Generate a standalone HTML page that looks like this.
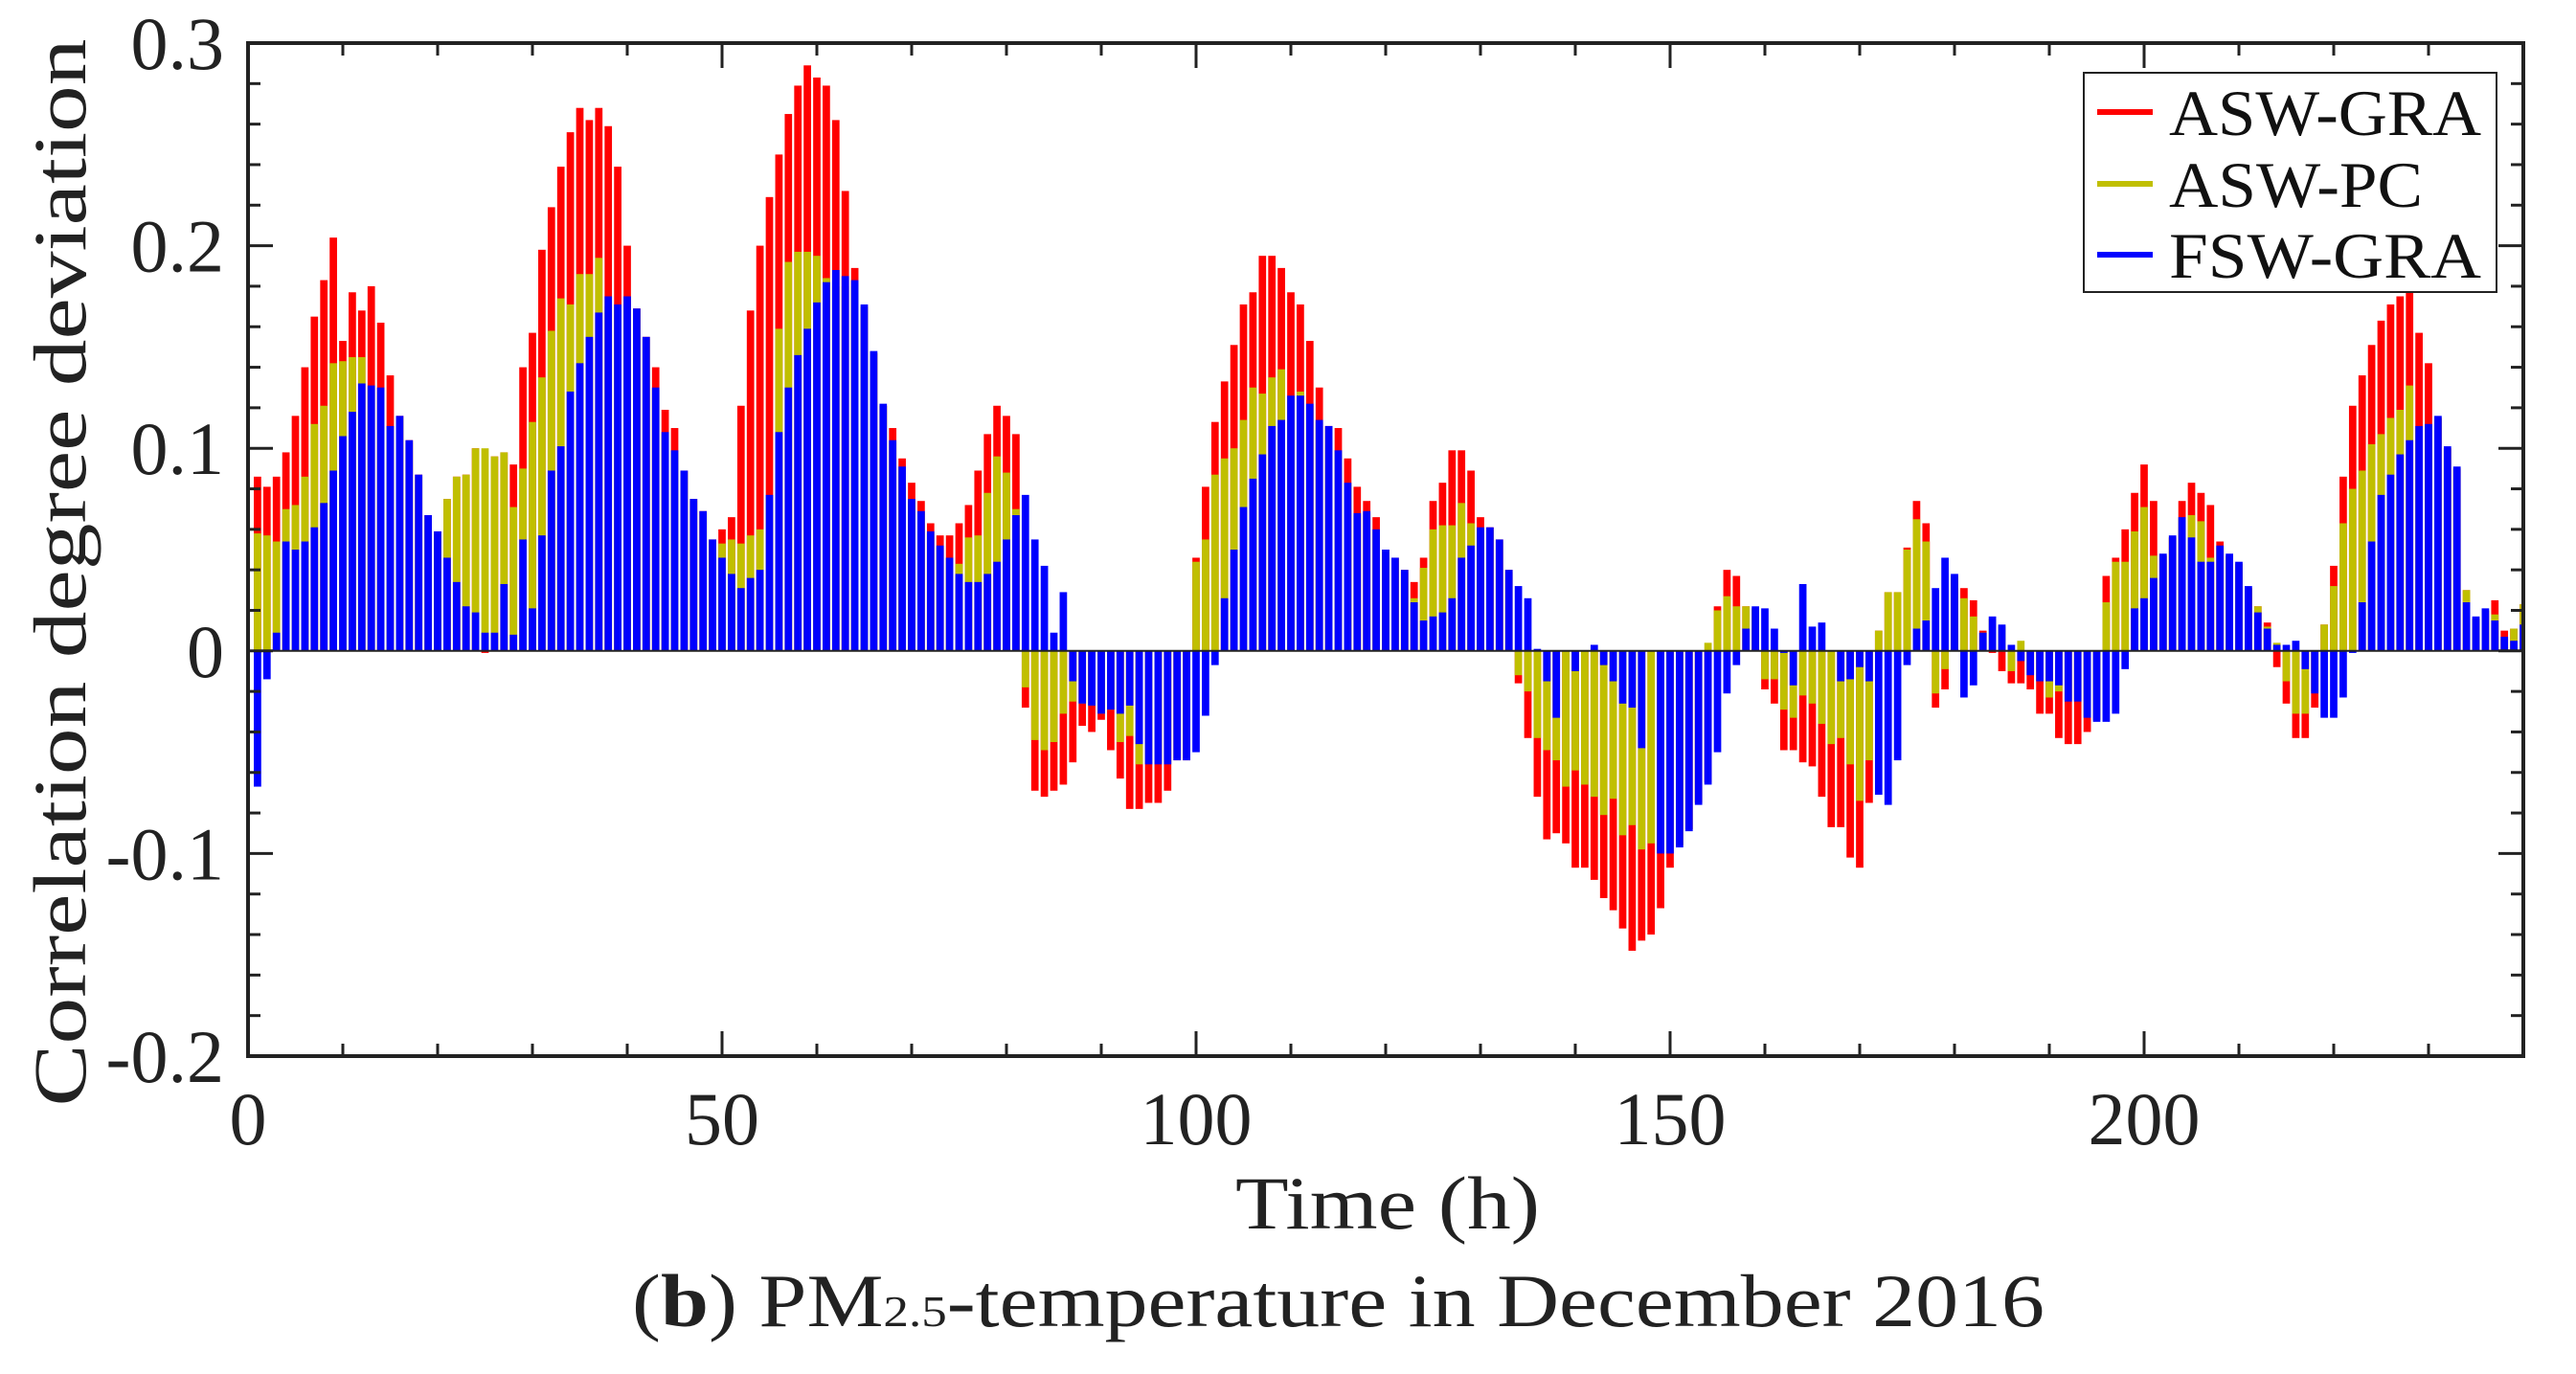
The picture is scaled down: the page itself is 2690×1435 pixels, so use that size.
<!DOCTYPE html>
<html><head><meta charset="utf-8"><style>
html,body{margin:0;padding:0;background:#fff;}
svg{display:block;font-family:"Liberation Serif",serif;}
</style></head><body>
<svg id="chart" width="2690" height="1435" viewBox="0 0 2690 1435" xmlns="http://www.w3.org/2000/svg">
<rect x="0" y="0" width="2690" height="1435" fill="#fff"/>
<g id="bars"></g>
<g id="axes"></g>
<text transform="translate(89,598) rotate(-90)" text-anchor="middle" font-size="78" textLength="1115" lengthAdjust="spacingAndGlyphs" fill="#222">Correlation degree deviation</text>
<text x="1449" y="1283" text-anchor="middle" font-size="78" textLength="318" lengthAdjust="spacingAndGlyphs" fill="#222">Time (h)</text>
<text x="660" y="1385" font-size="78" textLength="1475" lengthAdjust="spacingAndGlyphs" fill="#222">(<tspan font-weight="bold">b</tspan>) PM<tspan font-size="46">2.5</tspan>-temperature in December 2016</text>
<g>
<rect x="2176" y="76" width="431" height="229" fill="#fff" stroke="#222" stroke-width="2"/>
<g>
<line x1="2190" x2="2248" y1="117" y2="117" stroke="#ff0000" stroke-width="6"/>
<text x="2265" y="141" font-size="68" textLength="326" lengthAdjust="spacingAndGlyphs" fill="#111">ASW-GRA</text></g>
<g>
<line x1="2190" x2="2248" y1="192" y2="192" stroke="#c0bf00" stroke-width="6"/>
<text x="2265" y="216" font-size="68" textLength="265" lengthAdjust="spacingAndGlyphs" fill="#111">ASW-PC</text></g>
<g>
<line x1="2190" x2="2248" y1="266" y2="266" stroke="#0000ff" stroke-width="6"/>
<text x="2265" y="290" font-size="68" textLength="326" lengthAdjust="spacingAndGlyphs" fill="#111">FSW-GRA</text></g>
</g>
</svg>
<script>
const hours = Array.from({length:240},(_, i)=>i+1);
const aswGra = [.086,.081,.086,.098,.116,.140,.165,.183,.204,.153,.177,.168,.180,.162,.136,.116,.104,.087,.067,.059,.075,.086,.087,.100,-.001,.096,.098,.092,.140,.157,.198,.219,.239,.256,.268,.262,.268,.259,.239,.200,.169,.155,.140,.119,.110,.089,.075,.069,.055,.060,.066,.121,.168,.200,.224,.245,.265,.279,.289,.283,.279,.262,.227,.189,.170,.147,.121,.110,.095,.083,.074,.063,.057,.057,.063,.072,.089,.107,.121,.116,.107,-.028,-.069,-.072,-.069,-.066,-.055,-.037,-.040,-.034,-.049,-.063,-.078,-.078,-.075,-.075,-.069,-.054,-.054,.046,.081,.113,.133,.151,.171,.177,.195,.195,.189,.177,.171,.153,.130,.111,.110,.095,.081,.074,.066,.050,.046,.040,.034,.046,.074,.083,.099,.099,.089,.066,.061,.055,.040,-.016,-.043,-.072,-.093,-.090,-.095,-.107,-.107,-.113,-.122,-.128,-.137,-.148,-.143,-.140,-.127,-.107,-.096,-.088,-.075,-.065,.022,.040,.037,.022,.021,-.019,-.026,-.049,-.049,-.055,-.057,-.072,-.087,-.087,-.102,-.107,-.075,.010,.029,.029,.051,.074,.063,-.028,-.019,.037,.031,.025,.010,-.001,-.010,-.016,-.016,-.019,-.031,-.031,-.043,-.046,-.046,-.040,-.034,.037,.046,.060,.078,.092,.074,.047,.056,.074,.083,.078,.072,.054,.047,.043,.031,.022,.014,-.008,-.026,-.043,-.043,-.028,.013,.042,.086,.121,.136,.151,.163,.171,.175,.178,.157,.142,.115,.100,.090,.030,.016,.020,.025,.010,.011,.023];
const aswPc = [.058,.057,.054,.070,.072,.086,.112,.121,.142,.143,.145,.145,.130,.128,.110,.115,.103,.086,.066,.058,.075,.086,.087,.100,.100,.096,.098,.071,.090,.113,.135,.158,.174,.171,.186,.186,.194,.170,.170,.170,.168,.154,.129,.107,.098,.088,.074,.068,.054,.053,.055,.053,.057,.060,.075,.159,.192,.197,.197,.195,.184,.180,.180,.180,.170,.147,.121,.103,.090,.074,.068,.058,.051,.045,.043,.056,.057,.078,.096,.088,.070,-.018,-.044,-.049,-.045,-.031,-.025,-.026,-.027,-.031,-.029,-.045,-.042,-.056,-.055,-.055,-.055,-.053,-.053,.044,.055,.087,.095,.100,.114,.130,.127,.135,.139,.125,.128,.121,.113,.110,.098,.082,.067,.068,.059,.049,.045,.039,.026,.041,.060,.062,.062,.073,.063,.060,.060,.054,.039,-.012,-.020,-.043,-.049,-.054,-.067,-.059,-.066,-.072,-.081,-.073,-.091,-.086,-.098,-.095,-.099,-.099,-.096,-.088,-.075,.004,.020,.027,.022,.022,.021,-.014,-.014,-.029,-.033,-.022,-.026,-.036,-.046,-.043,-.056,-.074,-.054,.010,.029,.029,.050,.065,.054,-.021,-.009,.037,.026,.017,.009,.016,.012,-.010,.005,-.011,-.015,-.023,-.020,-.024,-.024,-.032,-.034,.024,.044,.044,.059,.071,.047,.047,.056,.065,.067,.064,.046,.051,.047,.043,.031,.022,.012,.004,-.015,-.031,-.031,-.020,.013,.032,.063,.080,.089,.102,.107,.115,.119,.131,.110,.111,.115,.100,.090,.030,.016,.020,.018,.006,.011,.023];
const fswGra = [-.067,-.014,.009,.054,.050,.054,.061,.073,.089,.106,.118,.132,.131,.130,.111,.116,.104,.087,.067,.059,.046,.034,.022,.019,.009,.009,.033,.008,.055,.021,.057,.089,.101,.128,.142,.155,.167,.175,.171,.175,.169,.155,.130,.108,.099,.089,.075,.069,.055,.046,.038,.031,.036,.040,.077,.108,.130,.146,.159,.172,.182,.188,.185,.183,.171,.148,.122,.104,.091,.075,.069,.059,.052,.046,.038,.034,.034,.038,.044,.055,.067,.077,.055,.042,.009,.029,-.015,-.026,-.027,-.031,-.029,-.031,-.027,-.046,-.056,-.056,-.056,-.054,-.054,-.050,-.032,-.007,.026,.050,.071,.085,.097,.111,.114,.126,.126,.122,.114,.111,.099,.083,.068,.069,.060,.050,.046,.040,.024,.015,.017,.019,.026,.046,.052,.061,.061,.055,.040,.032,.026,.001,-.015,-.033,0,-.010,0,.003,-.007,-.015,-.026,-.028,-.048,0,-.100,-.100,-.097,-.089,-.076,-.066,-.050,-.021,-.007,.011,.022,.021,.011,-.001,-.017,.033,.012,.014,0,-.015,-.014,-.008,-.015,-.071,-.076,-.054,-.007,.011,.015,.031,.046,.038,-.023,-.017,.009,.017,.013,.003,-.005,-.012,-.015,-.015,-.017,-.025,-.025,-.033,-.035,-.035,-.031,-.009,.021,.026,.036,.048,.057,.066,.056,.044,.044,.052,.048,.044,.032,.019,.011,.003,.003,.005,-.009,-.021,-.033,-.033,-.023,-.001,.024,.054,.077,.087,.097,.104,.111,.112,.116,.101,.091,.024,.017,.021,.015,.007,.005,.013];
const xTicks = [0,50,100,150,200];
const yTicks = [-0.2,-0.1,0,0.1,0.2,0.3];
const yTickLabels = ["-0.2","-0.1","0","0.1","0.2","0.3"];

const NS = "http://www.w3.org/2000/svg";
const L = 259, R = 2635, T = 45, B = 1103;
const X_MIN = 0, X_MAX = 240, Y_MIN = -0.2, Y_MAX = 0.3;
function xScale(v){ return L + (v - X_MIN) / (X_MAX - X_MIN) * (R - L); }
function yScale(v){ return B - (v - Y_MIN) / (Y_MAX - Y_MIN) * (B - T); }

const barsG = document.getElementById('bars');
const axesG = document.getElementById('axes');
const clip = document.createElementNS(NS,'clipPath');
clip.setAttribute('id','plotclip');
const cr = document.createElementNS(NS,'rect');
cr.setAttribute('x',L); cr.setAttribute('y',T); cr.setAttribute('width',R-L); cr.setAttribute('height',B-T);
clip.appendChild(cr);
document.getElementById('chart').appendChild(clip);
barsG.setAttribute('clip-path','url(#plotclip)');

const bw = 0.78 * (xScale(1) - xScale(0));
function drawSeries(vals, color, name){
  hours.forEach((h, i) => {
    const v = vals[i];
    const y0 = yScale(0), y1 = yScale(v);
    const r = document.createElementNS(NS,'rect');
    r.setAttribute('x', xScale(h) - bw/2);
    r.setAttribute('y', Math.min(y0,y1));
    r.setAttribute('width', bw);
    r.setAttribute('height', Math.abs(y1-y0));
    r.setAttribute('fill', color);
    
    
    barsG.appendChild(r);
  });
}
drawSeries(aswGra, '#ff0000', 'asw-gra');
drawSeries(aswPc, '#c0bf00', 'asw-pc');
drawSeries(fswGra, '#0000ff', 'fsw-gra');

function line(x1,y1,x2,y2,w,name){
  const l = document.createElementNS(NS,'line');
  l.setAttribute('x1',x1); l.setAttribute('y1',y1); l.setAttribute('x2',x2); l.setAttribute('y2',y2);
  l.setAttribute('stroke','#222'); l.setAttribute('stroke-width',w);
  
  
  axesG.appendChild(l);
}
// zero line
line(L, yScale(0), R, yScale(0), 2, 'zero-line');
// x ticks
for (let v = 10; v < 240; v += 10) {
  const len = (v % 50 === 0) ? 26 : 13;
  line(xScale(v), B, xScale(v), B-len, 3, 'x-tick');
  line(xScale(v), T, xScale(v), T+len, 3, 'x-tick-top');
}
// y ticks
for (let k = -10; k <= 15; k++) {
  const v = k * 0.02;
  const len = (k % 5 === 0) ? 26 : 13;
  line(L, yScale(v), L+len, yScale(v), 3, 'y-tick');
  line(R, yScale(v), R-len, yScale(v), 3, 'y-tick-right');
}
// frame
const fr = document.createElementNS(NS,'rect');
fr.setAttribute('x',L); fr.setAttribute('y',T); fr.setAttribute('width',R-L); fr.setAttribute('height',B-T);
fr.setAttribute('fill','none'); fr.setAttribute('stroke','#222'); fr.setAttribute('stroke-width',4);


axesG.appendChild(fr);
// tick labels
xTicks.forEach(v => {
  const t = document.createElementNS(NS,'text');
  t.setAttribute('x', xScale(v)); t.setAttribute('y', 1195);
  t.setAttribute('text-anchor','middle'); t.setAttribute('font-size','78'); t.setAttribute('fill','#222');
  t.textContent = String(v);
  
  
  axesG.appendChild(t);
});
yTicks.forEach((v, i) => {
  const t = document.createElementNS(NS,'text');
  t.setAttribute('x', 234); t.setAttribute('y', yScale(v) + 27);
  t.setAttribute('text-anchor','end'); t.setAttribute('font-size','78'); t.setAttribute('fill','#222');
  t.textContent = yTickLabels[i];
  
  
  axesG.appendChild(t);
});
</script>
</body></html>
